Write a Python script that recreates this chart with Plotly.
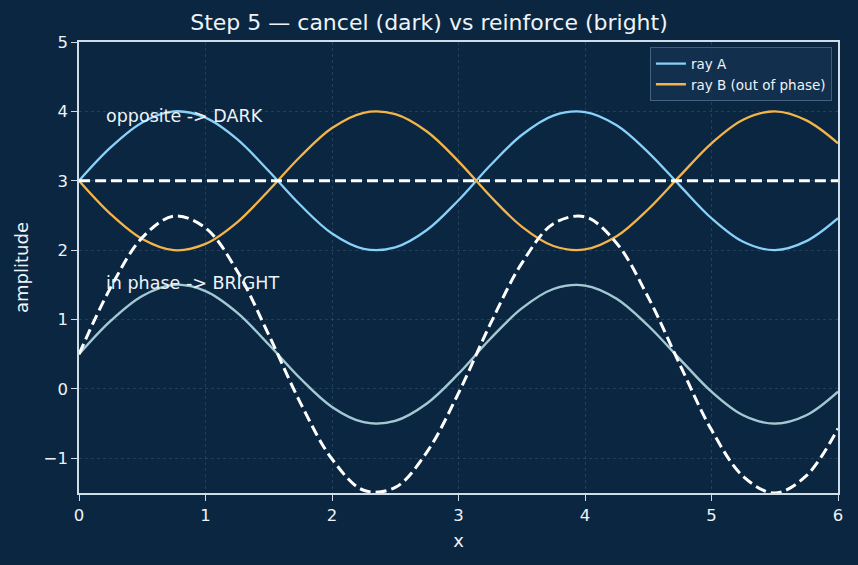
import plotly.graph_objects as go

x = [0, 0.25, 0.5, 0.75, 1.0, 1.25, 1.5, 1.75, 2.0, 2.25, 2.5, 2.75, 3.0,
     3.25, 3.5, 3.75, 4.0, 4.25, 4.5, 4.75, 5.0, 5.25, 5.5, 5.75, 6.0]

ray_a_dark = [3, 3.48, 3.84, 4.0, 3.91, 3.6, 3.14, 2.65, 2.24, 2.02, 2.04, 2.29, 2.72,
              3.22, 3.66, 3.94, 3.99, 3.8, 3.41, 2.93, 2.46, 2.12, 2.0, 2.13, 2.46]
ray_b_dark = [3, 2.52, 2.16, 2.0, 2.09, 2.4, 2.86, 3.35, 3.76, 3.98, 3.96, 3.71, 3.28,
              2.78, 2.34, 2.06, 2.01, 2.2, 2.59, 3.07, 3.54, 3.88, 4.0, 3.87, 3.54]
sum_dark = [3] * 25

ray_a_bright = [0.5, 0.98, 1.34, 1.5, 1.41, 1.1, 0.64, 0.15, -0.26, -0.48, -0.46, -0.21, 0.22,
                0.72, 1.16, 1.44, 1.49, 1.3, 0.91, 0.43, -0.04, -0.38, -0.5, -0.38, -0.04]
ray_b_bright = [0.5, 0.98, 1.34, 1.5, 1.41, 1.1, 0.64, 0.15, -0.26, -0.48, -0.46, -0.21, 0.22,
                0.72, 1.16, 1.44, 1.49, 1.3, 0.91, 0.43, -0.04, -0.38, -0.5, -0.38, -0.04]
sum_bright = [0.5, 1.46, 2.18, 2.49, 2.32, 1.70, 0.78, -0.20, -1.01, -1.46, -1.42, -0.91, -0.06,
              0.93, 1.81, 2.38, 2.48, 2.10, 1.32, 0.35, -0.59, -1.26, -1.5, -1.25, -0.57]

BG = "#0b2640"
BLUE = "#88d1f8"
ORANGE = "#f5b448"
FG = "#eef3f8"
SPINE = "#cfdde9"

fig = go.Figure()
fig.add_trace(go.Scatter(x=x, y=ray_a_dark, mode="lines", name="ray A",
                         line=dict(color=BLUE, width=2.3, shape="spline")))
fig.add_trace(go.Scatter(x=x, y=ray_b_dark, mode="lines", name="ray B (out of phase)",
                         line=dict(color=ORANGE, width=2.3, shape="spline")))
fig.add_trace(go.Scatter(x=x, y=sum_dark, mode="lines", showlegend=False,
                         line=dict(color="white", width=3, dash="11px,5px", shape="spline")))
fig.add_trace(go.Scatter(x=x, y=ray_b_bright, mode="lines", showlegend=False,
                         line=dict(color=ORANGE, width=2.3, shape="spline"), opacity=0.35))
fig.add_trace(go.Scatter(x=x, y=ray_a_bright, mode="lines", showlegend=False,
                         line=dict(color="#a3d3e6", width=2.3, shape="spline"), opacity=0.92))
fig.add_trace(go.Scatter(x=x, y=sum_bright, mode="lines", showlegend=False,
                         line=dict(color="white", width=3, dash="11px,5px", shape="spline")))

fig.add_annotation(x=0.2, y=3.93, text="opposite -> DARK", showarrow=False,
                   xanchor="left", yanchor="middle", font=dict(size=17.5, color=FG))
fig.add_annotation(x=0.2, y=1.53, text="in phase -> BRIGHT", showarrow=False,
                   xanchor="left", yanchor="middle", font=dict(size=17.5, color=FG))

axis_common = dict(showline=True, linecolor=SPINE, linewidth=1.5, mirror=True,
                   ticks="outside", tickcolor=SPINE, ticklen=6, tickwidth=1.3,
                   showgrid=True, gridcolor="rgba(120,150,180,0.22)", griddash="dot",
                   gridwidth=0.8, zeroline=False,
                   tickfont=dict(size=16.5, color=FG), title_font=dict(size=18, color=FG))

fig.update_layout(
    width=858, height=565,
    paper_bgcolor=BG, plot_bgcolor=BG,
    font=dict(family="DejaVu Sans", color=FG),
    title=dict(text="Step 5 — cancel (dark) vs reinforce (bright)", x=0.5, xanchor="center",
               y=0.961, yanchor="middle", font=dict(size=22, color=FG)),
    margin=dict(l=79, r=20, t=42, b=72),
    xaxis=dict(range=[0, 6], tickvals=[0, 1, 2, 3, 4, 5, 6], title_text="x",
               title_standoff=11, **axis_common),
    yaxis=dict(range=[-1.5, 5], tickvals=[-1, 0, 1, 2, 3, 4, 5],
               ticktext=["−1", "0", "1", "2", "3", "4", "5"], title_text="amplitude",
               title_standoff=10, **axis_common),
    legend=dict(x=0.992, y=0.988, xanchor="right", yanchor="top",
                bgcolor="rgba(20,50,80,0.8)", bordercolor="rgba(120,150,180,0.5)", borderwidth=1,
                font=dict(size=13.5, color=FG), tracegroupgap=0, itemwidth=30),
    showlegend=True,
)

fig.write_html("out.html")
